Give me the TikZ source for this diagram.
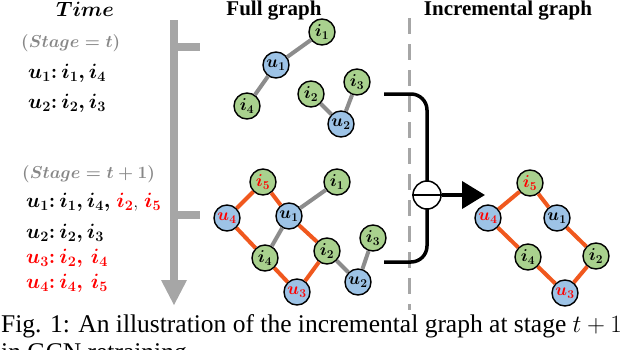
\documentclass[tikz,border=0pt]{standalone}
\usepackage{fontspec}
\newfontfamily\capfont{Liberation Serif}
\usetikzlibrary{arrows.meta}
\definecolor{ublue}{RGB}{157,195,230}
\definecolor{igreen}{RGB}{169,209,142}
\definecolor{eorange}{RGB}{240,88,30}
\definecolor{egray}{RGB}{140,140,140}
\definecolor{agray}{RGB}{166,166,166}
\definecolor{sgray}{RGB}{135,135,135}
\definecolor{tred}{RGB}{255,0,0}
\newcommand\bmath[1]{{\boldmath$#1$}}
\tikzset{
  gnode/.style={circle,draw=black,line width=1.4pt,minimum size=26pt,inner sep=0pt,font=\fontsize{17}{17}\selectfont},
  unode/.style={gnode,fill=ublue},
  inode/.style={gnode,fill=igreen},
  gedge/.style={line width=4pt,egray},
  oedge/.style={line width=4pt,eorange},
  ltext/.style={anchor=west,inner sep=0pt,font=\fontsize{19.5}{19.5}\selectfont},
  stext/.style={anchor=west,inner sep=0pt,text=sgray,font=\fontsize{17}{17}\selectfont},
  hdtext/.style={anchor=base,inner sep=0pt,font=\capfont\bfseries\fontsize{21}{21}\selectfont},
  timebar/.style={line width=8pt,agray}}
\begin{document}
\begin{tikzpicture}[x=1pt,y=1pt]
\useasboundingbox (0,-349) rectangle (640,0);
\clip (0,-349) rectangle (640,0);

% headers
\node[hdtext] (hfull) at (274,-15) {Full graph};
\node[hdtext] (hinc) at (508,-15) {Incremental graph};
\node[hdtext] (htime) at (85,-16) {\bmath{Time}};

% left text
\node[stext] (st1) at (21,-43) {\bmath{(Stage = t)}};
\node[ltext] (a1) at (28,-73) {\bmath{u_1{:}\, i_1, i_4}};
\node[ltext] (a2) at (28,-103) {\bmath{u_2{:}\, i_2, i_3}};
\node[stext] (st2) at (22,-174) {\bmath{(Stage = t+1)}};
\node[ltext] (b1) at (26,-202) {\bmath{u_1{:}\, i_1, i_4,} \textcolor{tred}{\bmath{i_2}}, \textcolor{tred}{\bmath{i_5}}};
\node[ltext] (b2) at (26,-233) {\bmath{u_2{:}\, i_2, i_3}};
\node[ltext,text=tred] (b3) at (26,-258) {\bmath{u_3{:}\, i_2,\, i_4}};
\node[ltext,text=tred] (b4) at (26,-283) {\bmath{u_4{:}\, i_4,\, i_5}};

% time arrow
\coordinate (ttop) at (174,-20);
\coordinate (tbot) at (174,-282);
\draw[timebar] (ttop) -- (tbot);
\fill[agray] (161,-280) -- (187,-280) -- (174,-305) -- cycle;
\coordinate (tk1) at (174,-47);
\coordinate (tk1e) at (200,-47);
\coordinate (tk2) at (174,-215);
\coordinate (tk2e) at (200,-215);
\draw[timebar] (tk1) -- (tk1e);
\draw[timebar] (tk2) -- (tk2e);

% dashed separator
\coordinate (dtop) at (409,-18);
\coordinate (dbot) at (409,-310);
\draw[agray,line width=3pt,dash pattern=on 16pt off 10pt] (dtop) -- (dbot);

% full graph, stage t
\node[inode] (fi1) at (322,-32) {\bmath{i_1}};
\node[unode] (fu1) at (276,-65) {\bmath{u_1}};
\node[inode] (fi4) at (247,-106) {\bmath{i_4}};
\node[inode] (fi2) at (311,-94) {\bmath{i_2}};
\node[inode] (fi3) at (357,-82) {\bmath{i_3}};
\node[unode] (fu2) at (341,-124) {\bmath{u_2}};
\draw[gedge] (fu1) -- (fi1);
\draw[gedge] (fu1) -- (fi4);
\draw[gedge] (fi2) -- (fu2);
\draw[gedge] (fu2) -- (fi3);

% full graph, stage t+1
\node[inode,text=tred] (gi5) at (263,-182) {\bmath{i_5}};
\node[inode] (gi1) at (337,-182) {\bmath{i_1}};
\node[unode,text=tred] (gu4) at (227,-218) {\bmath{u_4}};
\node[unode] (gu1) at (289,-216) {\bmath{u_1}};
\node[inode] (gi2) at (327,-251) {\bmath{i_2}};
\node[inode] (gi3) at (373,-238) {\bmath{i_3}};
\node[inode] (gi4) at (265,-258) {\bmath{i_4}};
\node[unode,text=tred] (gu3) at (297,-292) {\bmath{u_3}};
\node[unode] (gu2) at (358,-282) {\bmath{u_2}};
\draw[oedge] (gi5) -- (gu4);
\draw[oedge] (gi5) -- (gu1);
\draw[oedge] (gu4) -- (gi4);
\draw[oedge] (gi4) -- (gu3);
\draw[oedge] (gu3) -- (gi2);
\draw[oedge] (gu1) -- (gi2);
\draw[gedge] (gu1) -- (gi1);
\draw[gedge] (gu1) -- (gi4);
\draw[gedge] (gi2) -- (gu2);
\draw[gedge] (gu2) -- (gi3);

% bracket and difference operator
\coordinate (bt) at (384,-94);
\coordinate (bb) at (384,-262);
\draw[line width=3.5pt,rounded corners=16pt] (bt) -- (427,-94) -- (427,-262) -- (bb);
\node[circle,draw=black,fill=white,line width=1.5pt,minimum size=28pt,inner sep=0pt] (minus) at (427,-195) {};
\draw[line width=1.2pt] (minus.west) -- (minus.east);
\coordinate (atip) at (485,-195);
\draw[line width=4pt,-{Triangle[length=23pt,width=27pt]}] (minus.east) -- (atip);

% incremental graph
\node[inode,text=tred] (hi5) at (530,-183) {\bmath{i_5}};
\node[unode,text=tred] (hu4) at (488,-218) {\bmath{u_4}};
\node[unode] (hu1) at (557,-218) {\bmath{u_1}};
\node[inode] (hi4) at (528,-257) {\bmath{i_4}};
\node[inode] (hi2) at (596,-256) {\bmath{i_2}};
\node[unode,text=tred] (hu3) at (565,-293) {\bmath{u_3}};
\draw[oedge] (hi5) -- (hu4);
\draw[oedge] (hi5) -- (hu1);
\draw[oedge] (hu4) -- (hi4);
\draw[oedge] (hi4) -- (hu3);
\draw[oedge] (hu3) -- (hi2);
\draw[oedge] (hu1) -- (hi2);

% caption
\node[anchor=base west,inner sep=0pt,font=\capfont\fontsize{25.5}{29}\selectfont] (cap1) at (1,-332) {Fig. 1: An illustration of the incremental graph at stage $t+1$};
\node[anchor=base west,inner sep=0pt,font=\capfont\fontsize{25.5}{29}\selectfont] (cap2) at (1,-360) {in GCN retraining.};
\end{tikzpicture}
\end{document}
